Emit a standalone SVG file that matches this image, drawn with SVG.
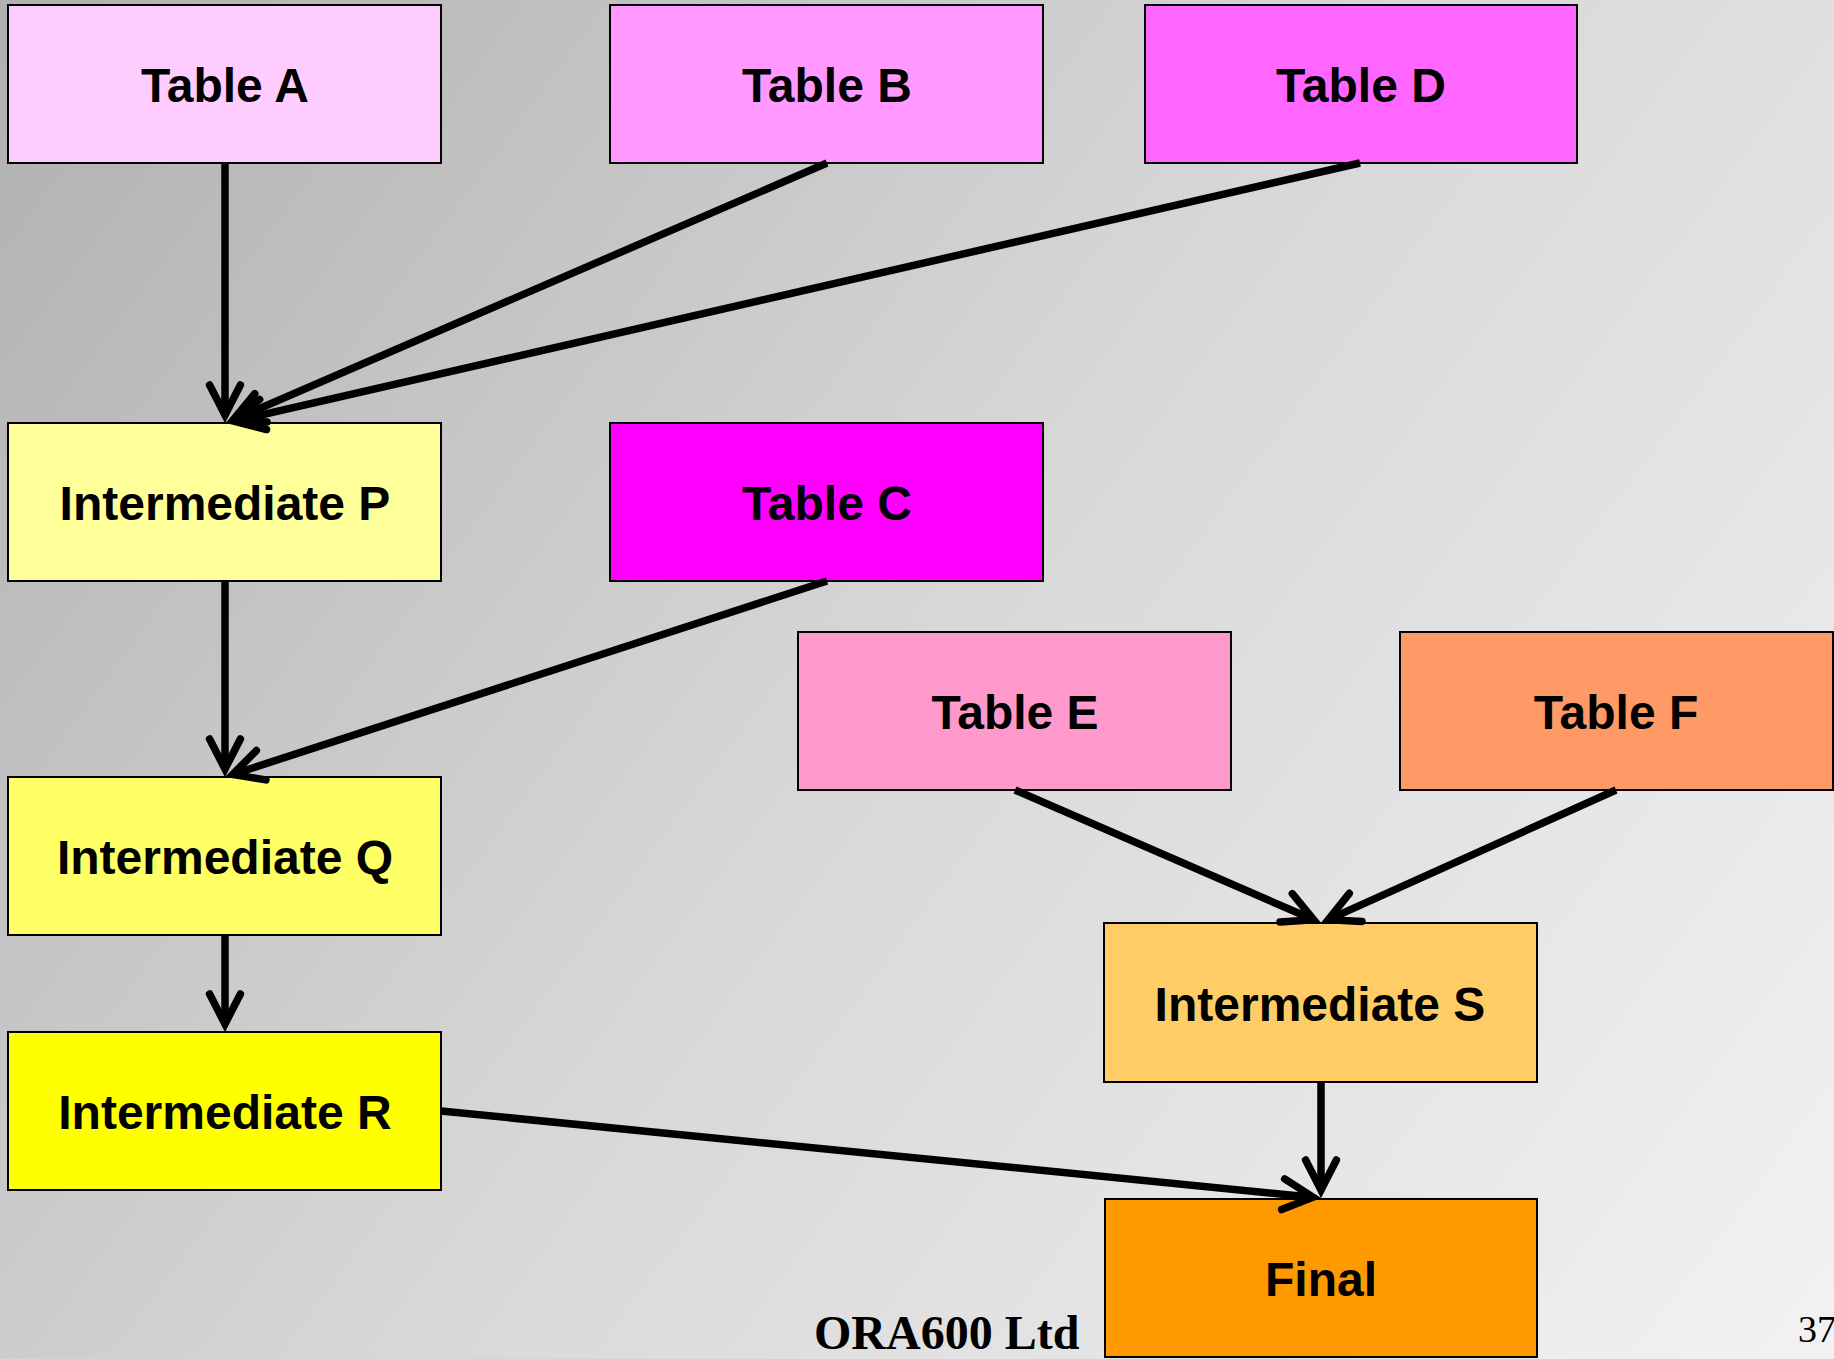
<svg xmlns="http://www.w3.org/2000/svg" width="1834" height="1359" viewBox="0 0 1834 1359">
<defs>
<linearGradient id="bg" gradientUnits="userSpaceOnUse" x1="0" y1="0" x2="1834" y2="1359">
<stop offset="0" stop-color="#b0b0b0"/>
<stop offset="0.5" stop-color="#d8d8d8"/>
<stop offset="1" stop-color="#f2f2f2"/>
</linearGradient>
<marker id="ah" markerUnits="userSpaceOnUse" orient="auto" refX="0" refY="0" markerWidth="10" markerHeight="10" overflow="visible">
<path d="M -30,-15.4 L 0,0 L -30,15.4" fill="none" stroke="#000" stroke-width="7.5" stroke-linecap="round" stroke-linejoin="miter"/>
</marker>
</defs>
<style>
.box{stroke:#000;stroke-width:2}
.lbl{font-family:"Liberation Sans",Arial,sans-serif;font-weight:bold;font-size:48px;text-anchor:middle;fill:#000}
.edge{stroke:#000;stroke-width:7.5;fill:none;marker-end:url(#ah)}
</style>
<rect x="0" y="0" width="1834" height="1359" fill="url(#bg)"/>
<g id="nodes">
<g id="tableA"><rect class="box" x="8" y="5" width="433" height="158" fill="#FFCCFF"/><text class="lbl" x="225" y="102">Table A</text></g>
<g id="tableB"><rect class="box" x="610" y="5" width="433" height="158" fill="#FF99FF"/><text class="lbl" x="827" y="102">Table B</text></g>
<g id="tableD"><rect class="box" x="1145" y="5" width="432" height="158" fill="#FF66FF"/><text class="lbl" x="1361" y="102">Table D</text></g>
<g id="intP"><rect class="box" x="8" y="423" width="433" height="158" fill="#FFFF99"/><text class="lbl" x="225" y="520">Intermediate P</text></g>
<g id="tableC"><rect class="box" x="610" y="423" width="433" height="158" fill="#FF00FF"/><text class="lbl" x="827" y="520">Table C</text></g>
<g id="tableE"><rect class="box" x="798" y="632" width="433" height="158" fill="#FF99CC"/><text class="lbl" x="1015" y="729">Table E</text></g>
<g id="tableF"><rect class="box" x="1400" y="632" width="433" height="158" fill="#FF9966"/><text class="lbl" x="1616" y="729">Table F</text></g>
<g id="intQ"><rect class="box" x="8" y="777" width="433" height="158" fill="#FFFF66"/><text class="lbl" x="225" y="874">Intermediate Q</text></g>
<g id="intS"><rect class="box" x="1104" y="923" width="433" height="159" fill="#FFCC66"/><text class="lbl" x="1320" y="1021">Intermediate S</text></g>
<g id="intR"><rect class="box" x="8" y="1032" width="433" height="158" fill="#FFFF00"/><text class="lbl" x="225" y="1129">Intermediate R</text></g>
<g id="final"><rect class="box" x="1105" y="1199" width="432" height="158" fill="#FF9900"/><text class="lbl" x="1321" y="1296">Final</text></g>
</g>
<g id="connectors">
<line class="edge" x1="225" y1="163" x2="225" y2="415"/>
<line class="edge" x1="827" y1="163" x2="233.3" y2="419.8"/>
<line class="edge" x1="1360" y1="163" x2="233.8" y2="421.2"/>
<line class="edge" x1="225" y1="581" x2="225" y2="769"/>
<line class="edge" x1="827" y1="581" x2="232.6" y2="774.5"/>
<line class="edge" x1="225" y1="935" x2="225" y2="1024"/>
<line class="edge" x1="1015" y1="790" x2="1313.7" y2="919.8"/>
<line class="edge" x1="1616" y1="790" x2="1328.3" y2="919.7"/>
<line class="edge" x1="1321" y1="1082" x2="1321" y2="1190"/>
<line class="edge" x1="441" y1="1111" x2="1313" y2="1197.2"/>
</g>
<text x="814" y="1349" font-family="'Liberation Serif','Times New Roman',serif" font-weight="bold" font-size="48" fill="#000">ORA600 Ltd</text>
<text x="1798" y="1342" font-family="'Liberation Serif','Times New Roman',serif" font-size="38" fill="#000">37</text>
</svg>
